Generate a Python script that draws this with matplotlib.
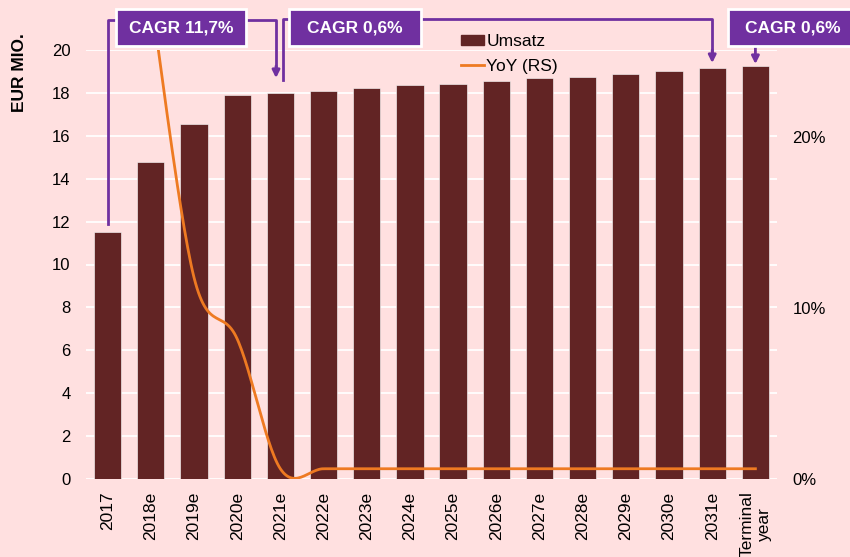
"""Umsatz bars with smoothed YoY line and CAGR call-outs."""
import matplotlib
import numpy as np

matplotlib.use('Agg')
import matplotlib.pyplot as plt
import matplotlib.transforms as mtransforms
from matplotlib.patches import Rectangle
from matplotlib.lines import Line2D

plt.rcParams['font.family'] = ['Liberation Sans', 'DejaVu Sans']

years = ['2017', '2018e', '2019e', '2020e', '2021e', '2022e', '2023e', '2024e',
         '2025e', '2026e', '2027e', '2028e', '2029e', '2030e', '2031e', 'Terminal\nyear']
umsatz = [11.53, 14.79, 16.54, 17.90, 18.01, 18.10, 18.23, 18.35,
          18.43, 18.55, 18.68, 18.76, 18.90, 19.02, 19.15, 19.25]
yoy = [np.nan, 0.283, 0.118, 0.082, 0.006, 0.006, 0.006, 0.006,
       0.006, 0.006, 0.006, 0.006, 0.006, 0.006, 0.006, 0.006]
cagr_labels = ['CAGR 11,7%', 'CAGR 0,6%', 'CAGR 0,6%']

BG = '#FFE0E0'
BAR = '#622424'
ORANGE = '#EE7A22'
PURPLE = '#7030A0'

W, H = 850, 557


def smooth(xs, ys, n=30):
    # catmull-rom style smoothing, like the spreadsheet "smoothed line" option
    xs, ys = np.asarray(xs, float), np.asarray(ys, float)
    px = np.concatenate([[xs[0]], xs, [xs[-1]]])
    py = np.concatenate([[ys[0]], ys, [ys[-1]]])
    out_x, out_y = [], []
    t = np.linspace(0, 1, n)
    h00 = 2 * t**3 - 3 * t**2 + 1
    h10 = t**3 - 2 * t**2 + t
    h01 = -2 * t**3 + 3 * t**2
    h11 = t**3 - t**2
    for i in range(1, len(px) - 2):
        mx0, my0 = (px[i + 1] - px[i - 1]) / 2, (py[i + 1] - py[i - 1]) / 2
        mx1, my1 = (px[i + 2] - px[i]) / 2, (py[i + 2] - py[i]) / 2
        out_x.append(h00 * px[i] + h10 * mx0 + h01 * px[i + 1] + h11 * mx1)
        out_y.append(h00 * py[i] + h10 * my0 + h01 * py[i + 1] + h11 * my1)
    return np.concatenate(out_x), np.concatenate(out_y)


fig = plt.figure(figsize=(W / 100, H / 100), dpi=100, facecolor=BG)
ax = fig.add_axes([86 / W, 1 - 479 / H, (777 - 86) / W, (479 - 50) / H])
ax.set_facecolor(BG)

x = np.arange(len(years))
ax.bar(x, umsatz, width=0.63, color=BAR, edgecolor='#ffffff', linewidth=0.4, zorder=2, label='Umsatz')
ax.set_xlim(-0.5, 15.5)
ax.set_ylim(0, 20)
ax.set_yticks(np.arange(0, 21, 2))
ax.grid(axis='y', color='white', linewidth=1.3, zorder=1)
ax.set_axisbelow(True)
ax.set_xticks(x)
ax.set_xticklabels(years, rotation=90, fontsize=12.5, linespacing=1.2)
for lab in ax.get_xticklabels():
    lab.set_multialignment('center')
ax.tick_params(axis='x', length=0, pad=9)
ax.tick_params(axis='y', length=0, labelsize=12, pad=11)
for s in ax.spines.values():
    s.set_visible(False)
fig.text(19.5 / W, 1 - 33 / H, 'EUR MIO.', fontsize=12.5, fontweight='bold',
         rotation=90, ha='center', va='top')

ax2 = ax.twinx()
mask = ~np.isnan(yoy)
sx, sy = smooth(x[mask], np.array(yoy)[mask])
ax2.plot(sx, sy, color=ORANGE, linewidth=2, zorder=3, label='YoY (RS)')
ax2.set_ylim(0, 0.251)
ax2.set_yticks([0, 0.1, 0.2])
ax2.set_yticklabels(['0%', '10%', '20%'])
ax2.tick_params(axis='y', length=0, labelsize=12, pad=11)
for s in ax2.spines.values():
    s.set_visible(False)

handles = [Rectangle((0, 0), 1, 1, color=BAR), Line2D([], [], color=ORANGE, linewidth=2)]
fig.legend(handles, ['Umsatz', 'YoY (RS)'], loc='upper left', bbox_to_anchor=(461 / W, 1 - 34 / H),
           frameon=False, fontsize=12.5, handlelength=1.3, handleheight=0.46, handletextpad=0.15,
           labelspacing=0.55, borderpad=0, borderaxespad=0)

# CAGR call-outs: x in bar units, y in figure pixels from the top
tr = mtransforms.blended_transform_factory(ax.transData, fig.transFigure)


def fy(ypx):
    return 1 - ypx / H


def bracket(xs, ys):
    ax.plot(xs, [fy(v) for v in ys], color=PURPLE, linewidth=2, transform=tr, clip_on=False, zorder=5)


def arrow(xv, y0, y1):
    ax.annotate('', xy=(xv, fy(y1)), xytext=(xv, fy(y0)), xycoords=tr, textcoords=tr,
                arrowprops=dict(arrowstyle='-|>', color=PURPLE, lw=2, mutation_scale=11,
                                shrinkA=0, shrinkB=0), zorder=5, annotation_clip=False)


bracket([0, 0, 1.5], [224, 20, 20])
bracket([1.9, 3.9, 3.9], [20, 20, 68])
arrow(3.9, 66, 78)
bracket([4.05, 4.05, 4.8], [80, 19, 19])
bracket([6.5, 14, 14], [19, 19, 52])
arrow(14, 50, 63)
arrow(15, 47, 64)

boxes = [(116, 246), (289, 421), (728, 880)]
for (l, r), lab in zip(boxes, cagr_labels):
    fig.patches.append(Rectangle((l / W, fy(46)), (r - l) / W, 37 / H, transform=fig.transFigure,
                                 facecolor=PURPLE, edgecolor='white', linewidth=2, zorder=6))
    cx = (l + r) / 2 if r < W else 793
    fig.text(cx / W, fy(28), lab, color='white', fontsize=12.5, fontweight='bold',
             ha='center', va='center', zorder=7)

fig.savefig('out.png', dpi=100, facecolor=BG)
